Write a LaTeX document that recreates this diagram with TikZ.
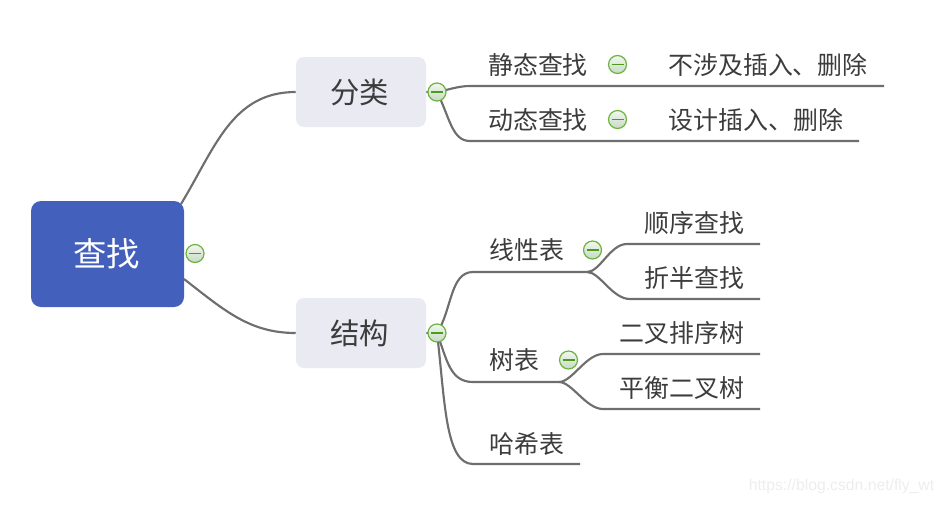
\documentclass[tikz,border=0pt]{standalone}
\usepackage{fontspec}
\setmainfont{Noto Sans CJK SC}
\newfontfamily\wmfont{Liberation Sans}
\usetikzlibrary{calc}
\definecolor{rootblue}{HTML}{4360BC}
\definecolor{boxgrey}{HTML}{EAEAF3}
\definecolor{linegrey}{HTML}{6E6E6E}
\definecolor{txt}{HTML}{3C3C3C}
\definecolor{btngreen}{HTML}{6DB33F}
\definecolor{btntop}{HTML}{F2F7EE}
\definecolor{btnbot}{HTML}{C6DAC4}
\definecolor{btnbar}{HTML}{4E9A1E}
\definecolor{wmgrey}{HTML}{EDEDED}
\tikzset{
  x=0.75pt,y=-0.75pt,
  conn/.style={draw=linegrey,line width=1.6pt},
  rootnode/.style={fill=rootblue,rounded corners=7.5pt,minimum width=114.75pt,minimum height=79.5pt,inner sep=0pt,text=white,font=\fontsize{25}{25}\selectfont},
  topicnode/.style={fill=boxgrey,rounded corners=6pt,minimum width=97.5pt,minimum height=52.5pt,inner sep=0pt,text=txt,font=\fontsize{22}{22}\selectfont},
  leaf/.style={inner sep=0pt,text=txt,font=\fontsize{18.7}{18.7}\selectfont},
  minusbtn/.style={circle,draw=btngreen,line width=0.9pt,top color=btntop,bottom color=btnbot,minimum size=13.5pt,inner sep=0pt,
    path picture={\draw[draw=btnbar,line width=0.8pt] ($(path picture bounding box.center)+(-6,0)$) -- ($(path picture bounding box.center)+(6,0)$);}},
}
\begin{document}
\begin{tikzpicture}
\useasboundingbox (0,0) rectangle (944,504);
% free ends of the connectors
\coordinate (ra) at (181,204);
\coordinate (rb) at (184,279);
\coordinate (s1a) at (470,86);  \coordinate (s1b) at (884,86);
\coordinate (s2a) at (470,141); \coordinate (s2b) at (859,141);
\coordinate (t1a) at (473,272); \coordinate (t1b) at (587,272);
\coordinate (t2a) at (473,382); \coordinate (t2b) at (559,382);
\coordinate (t3a) at (473,464); \coordinate (t3b) at (580,464);
\coordinate (u1a) at (627,244); \coordinate (u1b) at (760,244);
\coordinate (u2a) at (630,299); \coordinate (u2b) at (760,299);
\coordinate (v1a) at (603,354); \coordinate (v1b) at (760,354);
\coordinate (v2a) at (603,409); \coordinate (v2b) at (760,409);
% nodes
\node[rootnode] (root) at (107.5,254) {\hspace*{-1.5pt}查找};
\node[topicnode] (fl) at (361,92) {\hspace*{-2pt}分类};
\node[topicnode] (jg) at (361,333) {\hspace*{-2pt}结构};
\node[minusbtn] (brt) at (195,253.5) {};
% connectors
\draw[conn] (ra) .. controls (215,148) and (232,92) .. (fl.west);
\draw[conn] (rb) .. controls (225,311) and (250,333) .. (jg.west);
\draw[conn] (fl.east) -- (437,92) .. controls (448,90) and (458,86) .. (s1a) -- (s1b);
\draw[conn] (437,92) .. controls (450,118) and (452,141) .. (s2a) -- (s2b);
\draw[conn] (jg.east) -- (437,333) .. controls (452,310) and (450,272) .. (t1a) -- (t1b);
\draw[conn] (437,333) .. controls (447,360) and (450,382) .. (t2a) -- (t2b);
\draw[conn] (437,333) .. controls (445,400) and (445,464) .. (t3a) -- (t3b);
\draw[conn] (t1b) .. controls (600,272) and (610,244) .. (u1a) -- (u1b);
\draw[conn] (t1b) .. controls (600,272) and (612,299) .. (u2a) -- (u2b);
\draw[conn] (t2b) .. controls (572,382) and (586,354) .. (v1a) -- (v1b);
\draw[conn] (t2b) .. controls (572,382) and (586,409) .. (v2a) -- (v2b);
% collapse buttons
\node[minusbtn] (bfl) at (437,92) {};
\node[minusbtn] (bjg) at (437,333) {};
\node[minusbtn] (bs1) at (617.5,64.5) {};
\node[minusbtn] (bs2) at (617.5,119.5) {};
\node[minusbtn] (bt1) at (592.5,250) {};
\node[minusbtn] (bt2) at (568.5,360) {};
% labels
\node[leaf] (n1) at (538,65) {静态查找};
\node[leaf] (n2) at (538,120) {动态查找};
\node[leaf] (n3) at (768,65) {不涉及插入、删除};
\node[leaf] (n4) at (756,120) {设计插入、删除};
\node[leaf] (n5) at (527,250) {线性表};
\node[leaf] (n6) at (514,360) {树表};
\node[leaf] (n7) at (527,444) {哈希表};
\node[leaf] (n8) at (694.5,223) {顺序查找};
\node[leaf] (n9) at (694.5,278) {折半查找};
\node[leaf] (n10) at (682,333) {二叉排序树};
\node[leaf] (n11) at (682,388) {平衡二叉树};
\node[inner sep=0pt,text=wmgrey,font=\wmfont\fontsize{11.8}{11.8}\selectfont] (wm) at (841.5,486) {https://blog.csdn.net/fly\_wt};
\end{tikzpicture}
\end{document}
